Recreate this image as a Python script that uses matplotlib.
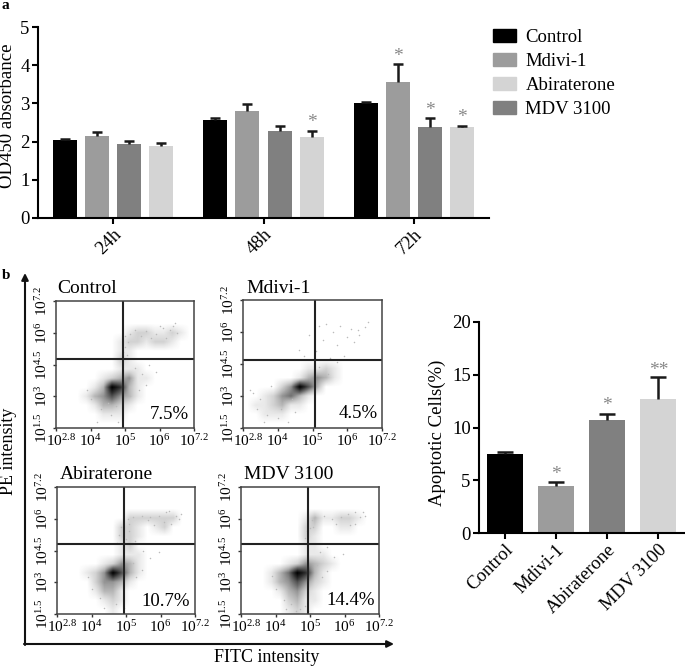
import matplotlib
matplotlib.use('Agg')
import matplotlib.pyplot as plt
import numpy as np
from matplotlib.colors import LinearSegmentedColormap
from matplotlib.patches import Patch
from matplotlib.transforms import ScaledTranslation

plt.rcParams['font.family'] = ['Liberation Serif', 'DejaVu Serif']
plt.rcParams['mathtext.fontset'] = 'custom'
plt.rcParams['mathtext.rm'] = 'Liberation Serif'

W, H = 685, 669
BLACK, MID, LIGHT, DARK = '#000000', '#9c9c9c', '#d4d4d4', '#808080'

# panel a
times = ['24h', '48h', '72h']
od_order = ['Control', 'Mdivi-1', 'MDV 3100', 'Abiraterone']
od_values = [[2.03, 2.15, 1.93, 1.89], [2.57, 2.79, 2.29, 2.12], [3.00, 3.57, 2.37, 2.38]]
od_errors = [[0.05, 0.10, 0.08, 0.08], [0.06, 0.19, 0.13, 0.16], [0.03, 0.46, 0.24, 0.04]]
od_stars = [(1, 3, 2.49), (2, 1, 4.22), (2, 2, 2.82), (2, 3, 2.64)]

# panel b bars
apo_names = ['Control', 'Mdivi-1', 'Abiraterone', 'MDV 3100']
apo_values = [7.5, 4.5, 10.7, 12.7]
apo_errors = [0.2, 0.35, 0.6, 2.1]
apo_stars = [(1, 5.5, '*'), (2, 12.1, '*'), (3, 15.4, '**')]

# flow plots, density read by eye, 16 columns x 14 rows, 0 empty to 9 black
control_grid = ['0000000000000000',
                '0000000000000000',
                '0000000000000000',
                '0000000012211210',
                '0000000122122100',
                '0000000110000000',
                '0000000210000000',
                '0000000111000000',
                '0000012341100000',
                '0000139731000000',
                '0001346431000000',
                '0000133210000000',
                '0000011100000000',
                '0000000000000000']
mdivi_grid = ['0000000000000000',
              '0000000000000000',
              '0000000000000000',
              '0000000000000000',
              '0000000000000000',
              '0000000000000000',
              '0000000000000000',
              '0000000112100000',
              '0000001343100000',
              '0000249630000000',
              '0012453100000000',
              '0112311000000000',
              '0011100000000000',
              '0000000000000000']
abi_grid = ['0000000000000000',
            '0000000000000000',
            '0000000000000000',
            '0000000022222200',
            '0000000221012000',
            '0000000221000000',
            '0000000120000000',
            '0000000111000000',
            '0000012431000000',
            '0001249631000000',
            '0000244310000000',
            '0000133100000000',
            '0000012100000000',
            '0000001000000000']
mdv_grid = ['0000000000000000',
            '0000000000000000',
            '0000000000000000',
            '0000000131122100',
            '0000000220011000',
            '0000000210000000',
            '0000000110000000',
            '0000000111000000',
            '0000012432100000',
            '0001359731000000',
            '0001346421000000',
            '0000134210000000',
            '0000023110000000',
            '0000012100000000']

# stray events, on the 0-4 box scale
control_dots_x = [2.0, 2.1, 2.3, 2.6, 2.9, 3.1, 3.3, 3.4, 3.5, 3.2, 2.75, 1.95, 2.05, 2.0, 2.3, 2.5, 2.7, 2.2, 2.6, 2.9,
                  2.4, 2.15, 1.3, 1.6, 1.8, 1.0, 1.2, 1.5, 0.9, 1.75, 3.0, 3.45, 2.15, 2.45]
control_dots_y = [2.9, 2.7, 3.1, 3.05, 2.95, 3.15, 3.1, 3.2, 3.0, 2.85, 2.85, 2.4, 2.3, 2.55, 1.9, 1.7, 2.0, 1.5, 1.35, 1.75,
                  1.2, 1.0, 0.6, 0.4, 0.2, 0.9, 0.2, 0.8, 1.2, 0.7, 3.2, 3.3, 2.95, 2.9]
mdivi_dots_x = [1.9, 2.2, 2.4, 2.6, 2.8, 3.1, 3.3, 3.5, 3.6, 2.3, 2.7, 3.0, 3.2, 1.6, 1.75, 2.1, 2.5, 2.7, 2.9, 0.3, 0.5,
                0.4, 0.7, 1.0, 1.3, 0.2, 1.1, 0.8, 0.6, 1.5, 2.2, 2.45, 3.35, 1.4]
mdivi_dots_y = [2.9, 3.2, 3.25, 3.0, 3.2, 3.1, 3.05, 3.15, 3.3, 2.75, 2.6, 2.85, 2.7, 2.45, 2.25, 2.4, 2.2, 2.05, 2.25, 1.1, 0.9,
                0.6, 0.4, 0.3, 0.2, 1.2, 0.6, 1.3, 0.2, 0.5, 1.9, 1.7, 2.9, 0.9]
abi_dots_x = [1.85, 2.05, 2.2, 2.45, 2.7, 2.95, 3.15, 3.3, 3.45, 3.55, 3.1, 2.8, 1.8, 2.0, 2.1, 2.25, 2.5, 2.7, 2.95, 2.2,
              2.45, 2.3, 1.0, 1.25, 1.5, 1.7, 1.95, 0.9, 1.35, 3.6, 3.25, 1.75, 2.1, 2.65]
abi_dots_y = [2.75, 3.0, 3.05, 3.1, 3.05, 3.1, 3.2, 2.85, 3.1, 3.0, 2.9, 2.8, 2.5, 2.35, 2.6, 2.3, 2.0, 1.75, 1.95, 1.6,
              1.4, 1.15, 0.8, 0.5, 0.7, 0.3, 0.2, 1.15, 0.2, 3.15, 3.25, 2.25, 2.85, 2.95]
mdv_dots_x = [1.9, 2.05, 2.15, 2.4, 2.65, 2.9, 3.1, 3.3, 3.45, 3.55, 3.15, 2.75, 1.85, 1.95, 2.0, 2.3, 2.5, 2.7, 2.95, 2.2,
              2.5, 2.35, 1.0, 1.25, 1.45, 1.7, 1.95, 0.9, 1.3, 3.6, 3.3, 2.1, 1.6, 1.85]
mdv_dots_y = [2.6, 2.95, 3.05, 3.1, 3.0, 3.05, 3.15, 2.85, 3.05, 3.2, 2.8, 2.85, 2.4, 2.25, 2.7, 1.95, 2.1, 1.8, 1.9, 1.55,
              1.35, 1.15, 0.8, 0.45, 0.3, 0.15, 0.1, 1.2, 0.15, 3.1, 3.2, 2.75, 0.1, 0.25]

flow_names = ['Control', 'Mdivi-1', 'Abiraterone', 'MDV 3100']
flow_grids = [control_grid, mdivi_grid, abi_grid, mdv_grid]
flow_dots = [(control_dots_x, control_dots_y), (mdivi_dots_x, mdivi_dots_y),
             (abi_dots_x, abi_dots_y), (mdv_dots_x, mdv_dots_y)]
flow_pct = ['7.5%', '4.5%', '10.7%', '14.4%']
gate_x = [1.93, 2.06, 1.94, 1.94]
gate_y = [2.18, 2.12, 2.19, 2.21]
flow_x_labels = ['2.8', '4', '5', '6', '7.2']
flow_y_labels = ['1.5', '3', '4.5', '6', '7.2']

flow_boxes = [(56, 194, 301, 428), (243, 382, 300, 428), (57, 195, 487, 614), (241, 379, 487, 614)]
title_pos = [(57, 293), (246, 293), (60, 479), (244, 479)]
pct_pos = [(189, 419), (378, 418), (190, 606), (375, 605)]

density = LinearSegmentedColormap.from_list('density', ['#ffffff', '#e9e9e9', '#d2d2d2', '#b6b6b6', '#949494',
                                                        '#707070', '#505050', '#303030', '#161616', '#000000'])


def make_axes(fig, left, right, top, bottom):
    return fig.add_axes([left / W, 1 - bottom / H, (right - left) / W, (bottom - top) / H])


def style_bar_axes(ax):
    ax.spines['top'].set_visible(False)
    ax.spines['right'].set_visible(False)
    ax.spines['left'].set_linewidth(1.5)
    ax.spines['bottom'].set_linewidth(1.5)
    ax.tick_params(axis='both', width=1.5, length=4, labelsize=13.5, pad=2)


def upper_error(ax, x, y, err, capsize):
    # only the upper cap, the lower one would sit on the bar top
    parts = ax.errorbar(x, y, yerr=[[0], [err]], fmt='none', ecolor='#1a1a1a',
                        elinewidth=1.8, capsize=capsize, capthick=1.8, zorder=3)
    parts[1][0].set_visible(False)


fig = plt.figure(figsize=(W / 100, H / 100), dpi=100)

# panel a
ax = make_axes(fig, 38, 489, 27, 218)
colors = [BLACK, MID, DARK, LIGHT]
offsets = [-0.32, -0.107, 0.107, 0.32]
for g in range(len(times)):
    for i in range(4):
        ax.bar(g + offsets[i], od_values[g][i], 0.16, color=colors[i], zorder=2)
        upper_error(ax, g + offsets[i], od_values[g][i], od_errors[g][i], 3.4)
for g, i, y in od_stars:
    ax.text(g + offsets[i], y, '*', color='#888888', fontsize=14, ha='center', va='center')
ax.set_xlim(-0.5, 2.5)
ax.set_ylim(0, 5)
ax.set_xticks(range(3))
ax.set_xticklabels(times, rotation=45, ha='right', rotation_mode='anchor')
ax.set_yticks(range(6))
style_bar_axes(ax)

handles = [Patch(color=BLACK), Patch(color=MID), Patch(color=LIGHT), Patch(color=DARK)]
fig.legend(handles, ['Control', 'Mdivi-1', 'Abiraterone', 'MDV 3100'], loc='upper left',
           bbox_to_anchor=(493 / W, 1 - 29 / H), frameon=False, fontsize=13.5, handlelength=1.23,
           handleheight=0.7, labelspacing=0.37, handletextpad=0.5, borderpad=0, borderaxespad=0)

# panel b flow plots
for n in range(4):
    left, right, top, bottom = flow_boxes[n]
    ax = make_axes(fig, left, right, top, bottom)
    grid = np.array([[int(c) for c in row] for row in flow_grids[n]])
    ax.imshow(grid, extent=(0, 4, 0, 4), aspect='auto', cmap=density, vmin=0, vmax=9, interpolation='bilinear')
    ax.scatter(flow_dots[n][0], flow_dots[n][1], s=1.2, color='#bbbbbb', linewidths=0)
    ax.axvline(gate_x[n], color='#222222', lw=1.5)
    ax.axhline(gate_y[n], color='#222222', lw=1.5)
    ax.set_xlim(0, 4)
    ax.set_ylim(0, 4)
    ax.set_xticks(range(5))
    ax.set_yticks(range(5))
    ax.set_xticklabels(['$\\mathregular{10^{%s}}$' % t for t in flow_x_labels])
    ax.set_yticklabels(['$\\mathregular{10^{%s}}$' % t for t in flow_y_labels], rotation=90, va='center')
    ax.tick_params(axis='both', width=1, length=2.5, labelsize=11, pad=1.5, color='#333333')
    first = ax.get_xticklabels()[0]
    first.set_transform(first.get_transform() + ScaledTranslation(5 / 100, 0, fig.dpi_scale_trans))
    for s in ax.spines.values():
        s.set_linewidth(1.1)
        s.set_color('#444444')

# panel b bars
ax = make_axes(fig, 479, 684, 322, 533)
ax.bar(range(4), apo_values, 0.7, color=[BLACK, MID, DARK, LIGHT], zorder=2)
for i in range(4):
    upper_error(ax, i, apo_values[i], apo_errors[i], 5.8)
for i, y, s in apo_stars:
    ax.text(i, y, s, color='#888888', fontsize=14, ha='center', va='center')
ax.set_xlim(-0.5, 3.5)
ax.set_ylim(0, 20)
ax.set_xticks(range(4))
ax.set_xticklabels(apo_names, rotation=45, ha='right', rotation_mode='anchor')
ax.set_yticks([0, 5, 10, 15, 20])
style_bar_axes(ax)

# overlay in pixel coordinates for the free text and the outer arrows
over = fig.add_axes([0, 0, 1, 1])
over.set_xlim(0, W)
over.set_ylim(H, 0)
over.axis('off')
over.patch.set_alpha(0)
over.text(2, 9, 'a', fontsize=11, fontweight='bold', va='baseline')
over.text(2, 279, 'b', fontsize=11, fontweight='bold', va='baseline')
over.text(8, 116, 'OD450 absorbance', fontsize=13.5, ha='center', va='center', rotation=90)
over.text(437, 433, 'Apoptotic Cells(%)', fontsize=13.5, ha='center', va='center', rotation=90)
for n in range(4):
    over.text(title_pos[n][0], title_pos[n][1], flow_names[n], fontsize=14, va='baseline')
    over.text(pct_pos[n][0], pct_pos[n][1], flow_pct[n], fontsize=13.5, va='baseline', ha='right')
over.annotate('', xy=(25, 273), xytext=(25, 645), arrowprops=dict(arrowstyle='-|>', color='#111111', lw=1.5, shrinkA=0, shrinkB=0))
over.annotate('', xy=(394, 644), xytext=(24, 644), arrowprops=dict(arrowstyle='-|>', color='#111111', lw=1.5, shrinkA=0, shrinkB=0))
over.text(267, 658, 'FITC intensity', fontsize=13, ha='center', va='center')
over.text(9, 451, 'PE intensity', fontsize=13, ha='center', va='center', rotation=90)

fig.savefig('out.png', dpi=100)
